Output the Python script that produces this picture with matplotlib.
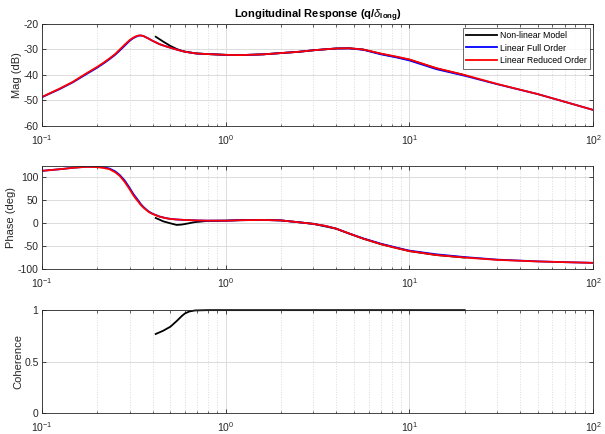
"""
Longitudinal frequency response q/delta_long: non-linear model vs linear models.
"""

import matplotlib.pyplot as plt
from matplotlib.ticker import LogLocator, NullFormatter

plt.rcParams["font.family"] = ["Liberation Sans", "DejaVu Sans"]
plt.rcParams["mathtext.fontset"] = "custom"
plt.rcParams["mathtext.rm"] = "Liberation Sans"
plt.rcParams["mathtext.it"] = "Liberation Sans:italic"
plt.rcParams["mathtext.bf"] = "Liberation Sans:bold"
plt.rcParams["axes.unicode_minus"] = False

# ------------------------------------------------------------------
# Data
# ------------------------------------------------------------------

freq_lin = [0.1, 0.125, 0.147, 0.174, 0.2, 0.218, 0.233, 0.25, 0.265, 0.282,
            0.3, 0.313, 0.325, 0.336, 0.345, 0.356, 0.37, 0.382, 0.4, 0.436,
            0.47, 0.5, 0.55, 0.6, 0.7, 0.8, 1.0, 1.2, 1.6, 2.0,
            2.5, 3.0, 3.5, 4.0, 4.7, 5.6, 7.0, 8.5, 10, 14,
            20, 30, 50, 70, 100]

mag_red = [-48.6, -45.3, -42.7, -39.4, -36.8, -35.0, -33.5, -31.8, -30.0, -28.1,
           -26.3, -25.4, -24.8, -24.5, -24.5, -24.7, -25.3, -25.8, -26.6, -27.9,
           -28.7, -29.3, -30.2, -30.9, -31.6, -31.8, -32.1, -32.2, -31.9, -31.4,
           -30.9, -30.3, -29.9, -29.6, -29.5, -30.0, -31.6, -32.8, -33.9, -37.3,
           -40.0, -43.5, -47.5, -50.5, -53.7]

mag_blue = [-48.7, -45.5, -42.9, -39.7, -37.1, -35.3, -33.8, -32.1, -30.4, -28.5,
            -26.6, -25.6, -25.0, -24.6, -24.5, -24.7, -25.3, -25.8, -26.6, -27.9,
            -28.7, -29.3, -30.2, -30.9, -31.6, -31.8, -32.1, -32.2, -31.9, -31.4,
            -30.9, -30.3, -29.9, -29.6, -29.6, -30.1, -31.9, -33.1, -34.3, -37.7,
            -40.3, -43.6, -47.5, -50.5, -53.7]

phase_red = [113, 116.5, 119.4, 121.6, 121, 119, 116.5, 110, 102, 89,
             73, 61, 52, 45, 39, 33.5, 28, 23.5, 19.4, 13.7,
             10.5, 8.6, 7.3, 6.5, 5.5, 5, 5, 6, 6.5, 5.5,
             1.5, -2, -6.5, -12.5, -23, -34, -46, -54.5, -61, -69.5,
             -75, -80, -83.5, -85, -86.5]

phase_blue = [113, 116.5, 119.6, 122, 121.8, 120.5, 118, 112, 104, 92,
              76, 64, 55, 47.5, 41, 35, 29, 24.5, 20, 14,
              10.7, 8.8, 7.3, 6.5, 5.5, 5, 5, 6, 6.5, 5.5,
              1.5, -2, -6.5, -12.5, -23, -33.5, -45, -53.5, -60, -68,
              -74, -79.5, -83.3, -85, -86.5]

freq_nl = [0.416, 0.457, 0.5, 0.541, 0.576, 0.6, 0.634, 0.68, 0.8, 1.0,
           1.2, 1.6, 2.0, 2.5, 3.0, 4.0, 4.7, 5.6, 7.0, 10,
           14, 20]

mag_nl = [-25.0, -26.9, -28.6, -29.8, -30.5, -30.8, -31.1, -31.5, -31.8, -32.1,
          -32.2, -31.9, -31.4, -30.9, -30.3, -29.6, -29.5, -30.0, -31.7, -34.0,
          -37.4, -40.1]

phase_nl = [10.8, 3.5, -0.8, -4.3, -3.5, -2.3, -0.5, 1.8, 4.5, 5,
            6, 6.5, 5.5, 1.5, -2, -12.5, -23, -34, -46, -61,
            -69.5, -75]

coh_nl = [0.768, 0.80, 0.839, 0.894, 0.942, 0.968, 0.987, 0.997, 1.0, 1.0,
          1.0, 1.0, 1.0, 1.0, 1.0, 1.0, 1.0, 1.0, 1.0, 1.0,
          1.0, 1.0]

coh_ticks = [0, 0.5, 1]
coh_ticklabels = ["0", "0.5", "1"]

# ------------------------------------------------------------------
# Style helpers
# ------------------------------------------------------------------

AX_COLOR = "#262626"
GRID_COLOR = "#dcdcdc"


def style_axis(ax, ylim, yticks, ylabel, label_x):
    ax.set_xscale("log")
    ax.set_xlim(0.1, 100)
    ax.set_ylim(*ylim)
    ax.set_yticks(yticks)
    ax.xaxis.set_major_locator(LogLocator(base=10, numticks=10))
    ax.xaxis.set_minor_locator(LogLocator(base=10, subs=range(2, 10), numticks=10))
    ax.xaxis.set_minor_formatter(NullFormatter())
    ax.grid(True, which="major", color=GRID_COLOR, linewidth=0.7, linestyle="-")
    ax.grid(True, which="minor", axis="x", color=GRID_COLOR, linewidth=0.7, linestyle=":")
    ax.set_axisbelow(True)
    ax.tick_params(which="both", direction="in", top=True, right=True,
                   colors=AX_COLOR, labelsize=7.5, labelcolor=AX_COLOR)
    ax.tick_params(axis="y", pad=2.5)
    ax.tick_params(axis="x", pad=5)
    ax.tick_params(which="major", length=3, width=0.6)
    ax.tick_params(which="minor", length=1.8, width=0.5)
    for sp in ax.spines.values():
        sp.set_color(AX_COLOR)
        sp.set_linewidth(0.6)
    ax.set_ylabel(ylabel, fontsize=8, color=AX_COLOR)
    ax.yaxis.set_label_coords(label_x, 0.5)


# ------------------------------------------------------------------
# Plot
# ------------------------------------------------------------------

fig = plt.figure(figsize=(6.05, 4.34), dpi=100)
left, width = 0.0694, 0.911
ax_mag = fig.add_axes([left, 0.7097, width, 0.235])
ax_ph = fig.add_axes([left, 0.380, width, 0.237])
ax_coh = fig.add_axes([left, 0.0484, width, 0.237])

lw = 1.3
ax_mag.plot(freq_nl, mag_nl, color="black", linewidth=lw, label="Non-linear Model")
ax_mag.plot(freq_lin, mag_blue, color="#0000ff", linewidth=lw, label="Linear Full Order")
ax_mag.plot(freq_lin, mag_red, color="#ff0000", linewidth=lw, label="Linear Reduced Order")
style_axis(ax_mag, (-60, -20), [-60, -50, -40, -30, -20], "Mag (dB)", -0.036)
ax_mag.set_title(r"Longitudinal Response (q/$\mathit{\delta}_{\mathbf{long}}$)",
                 fontsize=8, fontweight="bold", pad=4)
leg = ax_mag.legend(loc="upper right", fontsize=6.3, frameon=True, fancybox=False,
                    handlelength=3.6, handletextpad=0.3, borderpad=0.35,
                    labelspacing=0.45, borderaxespad=0.4)
leg.get_frame().set_edgecolor(AX_COLOR)
leg.get_frame().set_linewidth(0.6)

ax_ph.plot(freq_nl, phase_nl, color="black", linewidth=lw)
ax_ph.plot(freq_lin, phase_blue, color="#0000ff", linewidth=lw)
ax_ph.plot(freq_lin, phase_red, color="#ff0000", linewidth=lw)
style_axis(ax_ph, (-100, 123), [-100, -50, 0, 50, 100], "Phase (deg)", -0.047)

ax_coh.plot(freq_nl, coh_nl, color="black", linewidth=lw, clip_on=False)
style_axis(ax_coh, (0, 1), coh_ticks, "Coherence", -0.034)
ax_coh.set_yticklabels(coh_ticklabels)

fig.savefig("out.png", dpi=100)
